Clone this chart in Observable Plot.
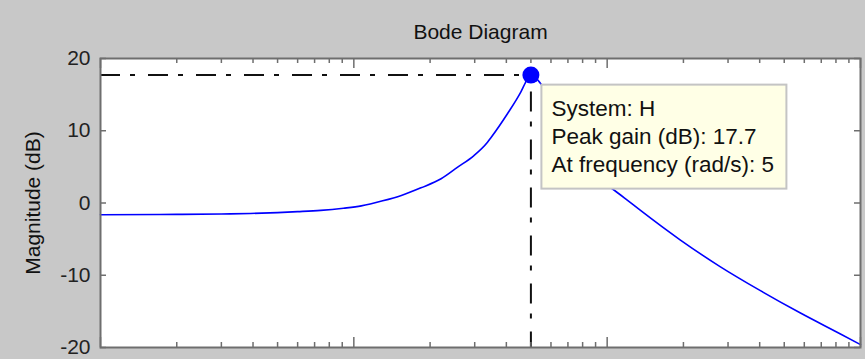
<!DOCTYPE html>
<html><head><meta charset="utf-8">
<script src="https://cdn.jsdelivr.net/npm/d3@7"></script>
<script src="https://cdn.jsdelivr.net/npm/@observablehq/plot@0.6"></script>
<style>
html,body{margin:0;padding:0;background:#c8c8c8;overflow:hidden;}
#chart svg{display:block;}
</style></head><body><div id="chart"></div>
<script>
// Frequency (rad/s) and magnitude (dB)
const freq  = [0.1, 0.2, 0.3, 0.39, 0.5, 0.6, 0.74, 0.91, 1.07, 1.3, 1.54, 1.84, 2.21, 2.57, 2.98, 3.37, 3.47, 4.04, 4.56, 4.82, 5,
               5.5, 6.5, 8, 9.5, 10.7, 12, 13.5, 19.4, 27.9, 40.1, 57.7, 83, 100];
const magDb = [-1.63, -1.58, -1.52, -1.45, -1.33, -1.2, -1.02, -0.72, -0.4, 0.3, 1.05, 2.1, 3.35, 4.96, 6.57, 8.42, 9.0, 12.35, 15.34, 17.0, 17.7,
               16.4, 11.0, 6.0, 3.0, 1.73, 0.4, -1.0, -5.1, -8.8, -12.1, -15.2, -18.1, -19.6];
const peakFreq = 5;
const peakDb = 17.7;
const yTicks = [-20, -10, 0, 10, 20];
const xMajorTicks = [0.1, 1, 10, 100];
const xMinorTicks = [0.2, 0.3, 0.4, 0.5, 0.6, 0.7, 0.8, 0.9, 2, 3, 4, 5, 6, 7, 8, 9, 20, 30, 40, 50, 60, 70, 80, 90];
const titleText = "Bode Diagram";
const yLabel = "Magnitude (dB)";
const tipLines = ["System: H", "Peak gain (dB): 17.7", "At frequency (rad/s): 5"];

const data = freq.map((w, i) => ({w, db: magDb[i]}));
const W = 865, H = 359, mL = 100, mT = 58, mR = 5, mB = 12;
const innerW = W - mL - mR;
const innerH = H - mT - mB;
const font = "'Liberation Sans', Arial, sans-serif";
const axisGray = "#6e6e6e";

const plot = Plot.plot({
  width: W, height: H,
  marginLeft: mL, marginTop: mT, marginRight: mR, marginBottom: mB,
  style: {background: "#c8c8c8", fontFamily: font, fontSize: "21px", color: "#000", overflow: "visible"},
  x: {type: "log", domain: [0.1, 100], axis: null},
  y: {domain: [-20, 20], axis: null},
  marks: [
    Plot.frame({fill: "white", stroke: "none"}),
    Plot.line(data, {x: "w", y: "db", stroke: "#0000ff", strokeWidth: 1.6, curve: "monotone-x"}),
    Plot.ruleY([peakDb], {x1: 0.1, x2: peakFreq, stroke: "#111", strokeWidth: 2, strokeDasharray: "20,10,5,13"}),
    Plot.ruleX([peakFreq], {y1: peakDb, y2: -20, stroke: "#111", strokeWidth: 2, strokeDasharray: "20,10,5,13", strokeDashoffset: 31}),
    Plot.dot([{w: peakFreq, db: peakDb}], {x: "w", y: "db", r: 8.5, fill: "#0000ff", stroke: "none"}),
    Plot.tickY(yTicks, {insetRight: innerW - 6, stroke: axisGray, strokeWidth: 1.5}),
    Plot.tickY(yTicks, {insetLeft: innerW - 6, stroke: axisGray, strokeWidth: 1.5}),
    Plot.tickX(xMinorTicks, {insetTop: innerH - 5, stroke: axisGray, strokeWidth: 1.5}),
    Plot.tickX(xMinorTicks, {insetBottom: innerH - 5, stroke: axisGray, strokeWidth: 1.5}),
    Plot.tickX(xMajorTicks, {insetTop: innerH - 10, stroke: axisGray, strokeWidth: 1.5}),
    Plot.tickX(xMajorTicks, {insetBottom: innerH - 10, stroke: axisGray, strokeWidth: 1.5}),
    Plot.frame({stroke: axisGray, strokeWidth: 2}),
    Plot.axisY(yTicks, {tickSize: 0, tickPadding: 10, fontSize: 21, fill: "#222", label: null, tickFormat: d => String(d)}),
    Plot.text([titleText], {frameAnchor: "top", dy: -26, lineAnchor: "middle", textAnchor: "middle", fontSize: 21, fill: "#111"}),
    Plot.text([yLabel], {frameAnchor: "left", rotate: -90, dx: -67, textAnchor: "middle", lineAnchor: "middle", fontSize: 21, fill: "#111"})
  ]
});

// Data-tip box anchored to the peak point through the plot's scales
const px = plot.scale("x").apply(peakFreq);
const py = plot.scale("y").apply(peakDb);
const tip = d3.select(plot).append("g")
  .attr("font-family", font).attr("font-size", 22.5).attr("text-anchor", "start");
tip.append("rect")
  .attr("x", px + 11).attr("y", py + 10).attr("width", 245).attr("height", 104)
  .attr("fill", "#ffffe6").attr("stroke", "#c4c4c4").attr("stroke-width", 2);
tipLines.forEach((t, i) => {
  tip.append("text").attr("x", px + 21).attr("y", py + 41 + i * 28.2).attr("fill", "#111").text(t);
});

document.getElementById("chart").appendChild(plot);
</script>
</body></html>
